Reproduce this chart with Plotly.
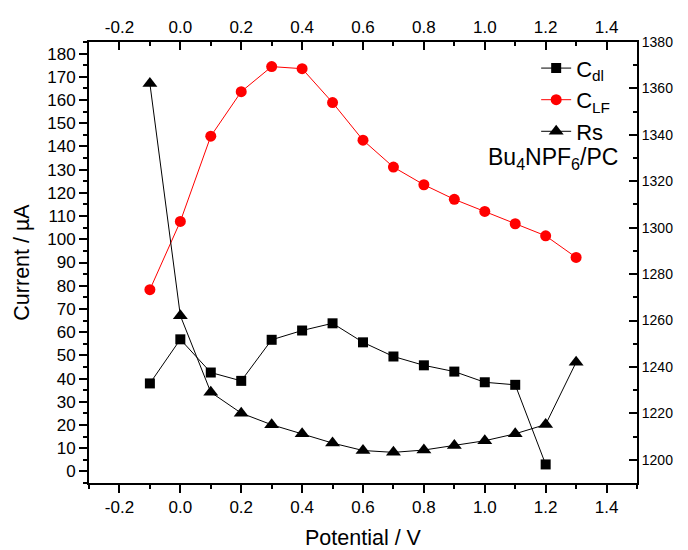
import plotly.graph_objects as go

# Potential values (V)
potential = [-0.1, 0.0, 0.1, 0.2, 0.3, 0.4, 0.5, 0.6, 0.7, 0.8, 0.9, 1.0, 1.1, 1.2, 1.3]

# Double-layer capacitance series (left axis)
potential_dl = [-0.1, 0.0, 0.1, 0.2, 0.3, 0.4, 0.5, 0.6, 0.7, 0.8, 0.9, 1.0, 1.1, 1.2]
c_dl = [37.9, 56.9, 42.6, 39.0, 56.7, 60.7, 63.8, 55.6, 49.5, 45.7, 43.0, 38.4, 37.3, 3.0]

# Low-frequency capacitance series (left axis)
c_lf = [78.3, 107.7, 144.4, 163.6, 174.4, 173.5, 158.9, 142.7, 131.1, 123.5,
        117.2, 112.0, 106.7, 101.5, 92.2]

# Solution resistance series (right axis)
rs = [1362.1, 1262.1, 1229.1, 1220.1, 1215.1, 1211.2, 1207.2, 1204.0, 1203.2,
      1204.2, 1206.2, 1208.2, 1211.2, 1215.2, 1242.0]

# Axis tick labels
x_tickvals = [-0.2, 0.0, 0.2, 0.4, 0.6, 0.8, 1.0, 1.2, 1.4]
x_ticktext = ["-0.2", "0.0", "0.2", "0.4", "0.6", "0.8", "1.0", "1.2", "1.4"]

FONT = "Liberation Sans, Arial, sans-serif"

fig = go.Figure()

fig.add_trace(go.Scatter(
    x=potential_dl, y=c_dl, name="C<sub>dl</sub>", mode="lines+markers",
    line=dict(color="black", width=1),
    marker=dict(symbol="square", size=10, color="black"),
    xaxis="x", yaxis="y",
))
fig.add_trace(go.Scatter(
    x=potential, y=c_lf, name="C<sub>LF</sub>", mode="lines+markers",
    line=dict(color="red", width=1),
    marker=dict(symbol="circle", size=11, color="red"),
    xaxis="x", yaxis="y",
))
fig.add_trace(go.Scatter(
    x=potential, y=rs, name="Rs", mode="lines+markers",
    line=dict(color="black", width=1),
    marker=dict(symbol="triangle-up", size=13, color="black"),
    xaxis="x", yaxis="y2",
))
# invisible trace so the top axis is drawn
fig.add_trace(go.Scatter(
    x=[0.0], y=[0.0], mode="markers", marker=dict(opacity=0),
    showlegend=False, hoverinfo="skip", xaxis="x2", yaxis="y",
))

axis_line = dict(showline=True, linecolor="black", linewidth=2,
                 showgrid=False, zeroline=False, automargin=False)

fig.update_layout(
    width=688, height=550,
    margin=dict(l=89, r=51, t=42, b=67),
    paper_bgcolor="white", plot_bgcolor="white",
    font=dict(family=FONT, color="black"),
    showlegend=True,
    legend=dict(
        x=0.816, y=0.988, xanchor="left", yanchor="top",
        bgcolor="rgba(0,0,0,0)", font=dict(size=22, family=FONT),
        tracegroupgap=0,
    ),
    xaxis=dict(
        **axis_line, range=[-0.3, 1.5],
        tickmode="array", tickvals=x_tickvals, ticktext=x_ticktext,
        ticks="outside", ticklen=8, tickwidth=1.5, tickcolor="black",
        minor=dict(dtick=0.1, tick0=0, ticks="outside", ticklen=4,
                   tickwidth=1.5, tickcolor="black"),
        tickfont=dict(size=17), mirror=False,
        title=dict(text="Potential / V", font=dict(size=21.5), standoff=16),
    ),
    xaxis2=dict(
        **axis_line, range=[-0.3, 1.5], overlaying="x", side="top",
        tickmode="array", tickvals=x_tickvals, ticktext=x_ticktext,
        ticks="inside", ticklen=8, tickwidth=1.5, tickcolor="black",
        minor=dict(dtick=0.1, tick0=0, ticks="inside", ticklen=4,
                   tickwidth=1.5, tickcolor="black"),
        tickfont=dict(size=17),
    ),
    yaxis=dict(
        **axis_line, range=[-5, 185], tick0=0, dtick=10,
        ticks="outside", ticklen=8, tickwidth=1.5, tickcolor="black",
        minor=dict(dtick=5, tick0=0, ticks="outside", ticklen=4,
                   tickwidth=1.5, tickcolor="black"),
        tickfont=dict(size=17),
        title=dict(text="Current / \u00b5A", font=dict(size=21.5), standoff=12),
    ),
    yaxis2=dict(
        **axis_line, range=[1190, 1380], overlaying="y", side="right",
        tick0=1200, dtick=20,
        ticks="inside", ticklen=8, tickwidth=1.5, tickcolor="black",
        minor=dict(dtick=10, tick0=1200, ticks="inside", ticklen=4,
                   tickwidth=1.5, tickcolor="black"),
        tickfont=dict(size=14),
    ),
    annotations=[dict(
        text="Bu<sub>4</sub>NPF<sub>6</sub>/PC", xref="paper", yref="paper",
        x=0.969, y=0.735, xanchor="right", yanchor="middle", showarrow=False,
        font=dict(size=23, family=FONT),
    )],
)

fig.write_html("out.html")
